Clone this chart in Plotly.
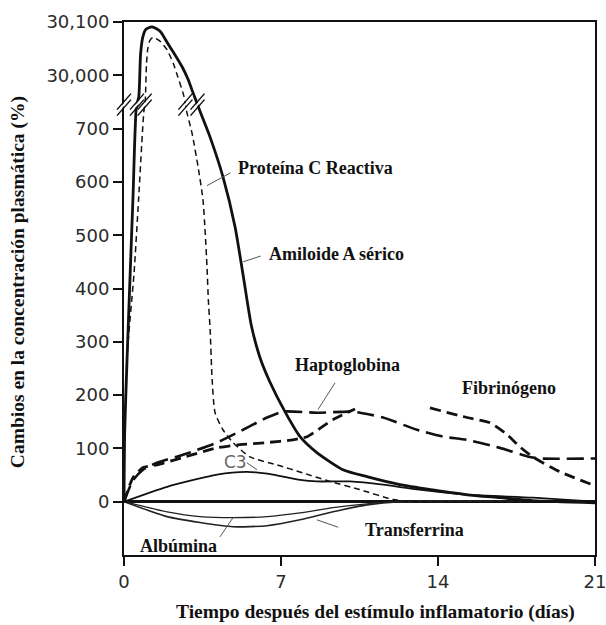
import plotly.graph_objects as go

# ---------------- data (values in % change; values above the break are real values ~30,000) -------------
BREAK_OFFSET = 29200      # 30,000 is drawn where 800 would be
BREAK_LEVEL = 745         # drawn level of the axis break

crp_days = [0, 0.03, 0.13, 0.25, 0.40, 0.55, 0.66, 0.74, 0.84, 0.97, 1.25, 1.6, 1.92, 2.25, 2.59, 2.85,
            3.08, 3.25, 3.32, 3.83, 4.41, 4.95, 5.33, 5.68, 6.05, 6.5, 7.2, 7.85, 8.6, 9.76, 10.83, 12.3,
            13.78, 15.3, 16.76, 18.2, 21]
crp = [0, 130, 260, 400, 570, 740, 29960, 30040, 30072, 30086, 30091, 30083, 30062, 30040, 30016, 29993,
       29967, 29948, 740, 685, 610, 516, 420, 330, 272, 225, 167, 122, 92, 60, 47, 32,
       22, 13, 7.5, 2, -2]

saa_days = [0, 0.03, 0.15, 0.45, 0.65, 0.88, 0.95, 1.0, 1.06, 1.15, 1.29, 1.6, 1.92, 2.2, 2.4, 2.63,
            2.72, 2.75, 3.03, 3.30, 3.52, 3.62, 3.70, 3.76, 3.84, 3.93, 4.06, 4.41, 4.86, 5.62, 6.82,
            7.98, 9.18, 10.5, 12.0, 13.0, 21]
saa = [0, 130, 280, 430, 567, 730, 29955, 30020, 30050, 30065, 30071, 30064, 30048, 30022, 29997, 29967,
       29952, 740, 692, 629, 567, 505, 441, 379, 323, 229, 167, 135, 111, 84, 69,
       54, 38, 23, 4, 0, 0]

hapto_days = [0, 0.4, 0.85, 1.47, 2.63, 4.15, 5.31, 6.38, 7.09, 8.6, 10.08, 10.52, 11.55, 13.06, 14.22,
              15.29, 16.76, 18.1, 18.55, 21]
hapto = [0, 40, 60, 73, 88, 111, 135, 158, 169, 167, 169, 167, 158, 135, 122,
         116, 101, 84, 81, 81]

fib_days = [0, 0.4, 0.85, 1.47, 2.63, 4.15, 5.17, 6.38, 7.53, 8.16, 9.32, 10.3, 12.0, 13.64, 15.29, 16.32,
            17.08, 17.65, 18.23, 19.44, 21]
fib = [0, 45, 64, 69, 83, 101, 107, 111, 116, 122, 154, 174, None, 176, 158, 148,
       126, 103, 84, 56, 30]

c3_days = [0, 1.92, 4.15, 5.48, 6.64, 7.85, 8.6, 10.08, 11.55, 13.06, 15.29, 18.23, 21]
c3 = [0, 28, 51, 56, 51, 41, 38, 38, 32, 23, 13, 7.5, 0]

alb_days = [0, 1.92, 3.39, 4.86, 6.38, 7.85, 9.32, 10.83, 12.3, 21]
alb = [0, -19, -28, -30, -28, -21, -11, -4, 0, 0]

trf_days = [0, 1.92, 3.39, 4.86, 6.38, 7.85, 9.32, 10.83, 12.3, 21]
trf = [0, -28, -39, -47, -45, -34, -19, -6, 0, 0]

x_ticks = [0, 7, 14, 21]
y_tick_values = [0, 100, 200, 300, 400, 500, 600, 700, 30000, 30100]
y_tick_text = ["0", "100", "200", "300", "400", "500", "600", "700", "30,000", "30,100"]


def shown(v):
    if v is None:
        return None
    return v - BREAK_OFFSET if v > 20000 else v


def crossings(days, vals, level):
    out = []
    s = [shown(v) for v in vals]
    for i in range(len(s) - 1):
        a, b = s[i], s[i + 1]
        if a is None or b is None:
            continue
        if (a - level) * (b - level) < 0:
            out.append(days[i] + (days[i + 1] - days[i]) * (level - a) / (b - a))
    return out


fig = go.Figure()

BLACK = "#111111"


def add(days, vals, width, dash="solid", color=BLACK, smoothing=0.6):
    fig.add_trace(go.Scatter(
        x=days, y=[shown(v) for v in vals], mode="lines",
        line=dict(color=color, width=width, dash=dash, shape="spline", smoothing=smoothing),
        showlegend=False, hoverinfo="skip"))


add(alb_days, alb, 1.3, color="#222222")
add(trf_days, trf, 1.6, color="#222222")
add(c3_days, c3, 1.8)
add(hapto_days, hapto, 2.6, dash="17px,7px")
add(fib_days, fib, 2.8, dash="11px,6px")
add(saa_days, saa, 1.5, dash="6px,4px")
add(crp_days, crp, 2.8)

shapes = []


def break_mark(xref, x):
    # white gap + two parallel slanted strokes
    shapes.append(dict(type="path", xref=xref, yref="y", xsizemode="pixel", ysizemode="pixel",
                       xanchor=x, yanchor=BREAK_LEVEL,
                       path="M -7.5,-10 L 6.5,6 L 7.5,10 L -6.5,-6 Z",
                       fillcolor="white", line=dict(width=0), layer="above"))
    for dy in (-3, 3):
        shapes.append(dict(type="line", xref=xref, yref="y", xsizemode="pixel", ysizemode="pixel",
                           xanchor=x, yanchor=BREAK_LEVEL,
                           x0=-7, y0=-8 + dy, x1=7, y1=8 + dy,
                           line=dict(color=BLACK, width=1.5), layer="above"))


break_mark("paper", 0)
for xc in crossings(crp_days, crp, BREAK_LEVEL):
    break_mark("x", xc)
for xc in crossings(saa_days, saa, BREAK_LEVEL):
    break_mark("x", xc)

# leader lines
LEAD = dict(color="#555555", width=1)
for (x0, y0, x1, y1) in [(3.70, 593, 4.75, 617), (5.31, 450, 6.1, 461), (8.65, 173, 9.41, 223),
                         (5.48, 73, 5.93, 60), (4.28, -66, 4.86, -30), (8.6, -34, 9.55, -48)]:
    shapes.append(dict(type="line", xref="x", yref="y", x0=x0, y0=y0, x1=x1, y1=y1, line=LEAD))

LBL = dict(family="Liberation Serif, Times New Roman, serif", size=18, color="#111111")
annotations = []
for txt, x, y in [("Proteína C Reactiva", 4.99, 627), ("Amiloide A sérico", 6.38, 465),
                  ("Haptoglobina", 7.53, 257), ("Fibrinógeno", 14.98, 214),
                  ("Transferrina", 10.66, -54), ("Albúmina", 0.62, -83)]:
    annotations.append(dict(text="<b>%s</b>" % txt, x=x, y=y, xref="x", yref="y", xanchor="left",
                            yanchor="middle", showarrow=False, font=LBL))
annotations.append(dict(text="C3", x=4.37, y=75, xref="x", yref="y", xanchor="left", yanchor="middle",
                        showarrow=False, font=dict(family="DejaVu Sans", size=17, color="#666666")))

TITLE = dict(family="Liberation Serif, Times New Roman, serif", size=19.5, color="#111111")
annotations.append(dict(text="<b>Cambios en la concentración plasmática (%)</b>", x=-0.225, y=0.512,
                        xref="paper", yref="paper", textangle=-90, showarrow=False, font=TITLE,
                        xanchor="center", yanchor="middle"))
annotations.append(dict(text="<b>Tiempo después del estímulo inflamatorio (días)</b>", x=0.533, y=-0.107,
                        xref="paper", yref="paper", showarrow=False, font=TITLE,
                        xanchor="center", yanchor="middle"))

TICKF = dict(family="DejaVu Sans", size=18, color="#2a2a2a")
fig.update_layout(
    width=606, height=625,
    margin=dict(l=124, r=11, t=22, b=70, pad=0),
    plot_bgcolor="white", paper_bgcolor="white",
    shapes=shapes, annotations=annotations,
    xaxis=dict(range=[0, 21], tickvals=x_ticks, ticktext=[str(t) for t in x_ticks], automargin=False,
               ticklabeloverflow="allow",
               showgrid=False, zeroline=False, showline=True, linecolor=BLACK, linewidth=2,
               mirror=True, ticks="outside", ticklen=9, tickwidth=2, tickcolor=BLACK,
               tickfont=TICKF),
    yaxis=dict(range=[-100, 900], tickvals=[shown(v) for v in y_tick_values], ticktext=y_tick_text,
               automargin=False, ticklabeloverflow="allow",
               showgrid=False, zeroline=True, zerolinecolor=BLACK, zerolinewidth=3,
               showline=True, linecolor=BLACK, linewidth=2, mirror=True,
               ticks="outside", ticklen=9, tickwidth=2, tickcolor=BLACK, tickfont=TICKF),
)

fig.write_html("out.html", config={"displayModeBar": False},
               post_script="document.body.style.margin='0';")
